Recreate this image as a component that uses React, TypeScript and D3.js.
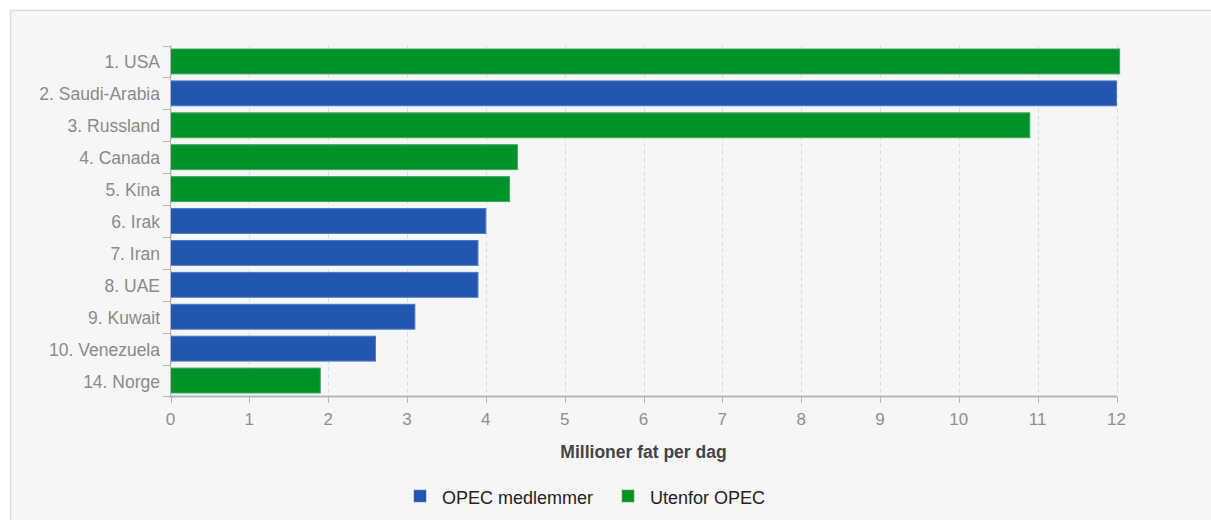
import React from "react";
import * as d3 from "d3";

const countries = ["1. USA", "2. Saudi-Arabia", "3. Russland", "4. Canada", "5. Kina", "6. Irak", "7. Iran", "8. UAE", "9. Kuwait", "10. Venezuela", "14. Norge"];
const production = [12.04, 12.0, 10.9, 4.4, 4.3, 4.0, 3.9, 3.9, 3.1, 2.6, 1.9];
const groups = ["non", "opec", "non", "non", "non", "opec", "opec", "opec", "opec", "opec", "non"];
const xTicks = [0, 1, 2, 3, 4, 5, 6, 7, 8, 9, 10, 11, 12];
const legendKeys = ["opec", "non"];
const legendLabels = ["OPEC medlemmer", "Utenfor OPEC"];
const axisTitle = "Millioner fat per dag";

const fills: Record<string, string> = { opec: "#2356b0", non: "#00922a" };
const strokes: Record<string, string> = { opec: "#4f79c6", non: "#3aa85a" };

const W = 1211;
const H = 520;
const FONT = "'Liberation Sans', Arial, Helvetica, sans-serif";

export default function App() {
  const x = d3.scaleLinear().domain([0, 12]).range([170.5, 1116.5]);
  const y = d3.scaleBand<string>().domain(countries).range([45.5, 396.5]).paddingInner(0.22).paddingOuter(0.11);
  const step = y.step();
  const top = 45.5;
  const bottom = 396.5;

  return (
    <svg width={W} height={H} style={{ position: "absolute", left: 0, top: 0, display: "block" }}>
      <rect x={0} y={0} width={W} height={H} fill="#ffffff" />
      <rect x={10.5} y={10.5} width={W + 10} height={H + 10} fill="#f6f6f6" stroke="#dcdcdc" strokeWidth={1.5} />
      {xTicks.map((t) => (
        <line key={"g" + t} x1={Math.round(x(t)) + 0.5} x2={Math.round(x(t)) + 0.5} y1={top} y2={bottom} stroke="#dadada" strokeWidth={1} strokeDasharray="4,3" />
      ))}
      {countries.map((c, i) => (
        <rect
          key={c}
          x={x(0)}
          y={y(c)!}
          width={x(production[i]) - x(0)}
          height={y.bandwidth()}
          fill={fills[groups[i]]}
          stroke={strokes[groups[i]]}
          strokeWidth={1}
        />
      ))}
      {/* left axis */}
      <line x1={170.5} x2={170.5} y1={top} y2={bottom} stroke="#b5b5b5" strokeWidth={1} />
      {countries.map((c, i) => (
        <line key={"yt" + i} x1={163} x2={170.5} y1={Math.round(top + i * step) + 0.5} y2={Math.round(top + i * step) + 0.5} stroke="#b5b5b5" strokeWidth={1} />
      ))}
      <line x1={163} x2={170.5} y1={bottom} y2={bottom} stroke="#b5b5b5" strokeWidth={1} />
      {countries.map((c) => (
        <text key={"yl" + c} x={160} y={y(c)! + y.bandwidth() / 2} dy={7} textAnchor="end" fontFamily={FONT} fontSize={17.5} fill="#8a8a8a">
          {c}
        </text>
      ))}
      {/* bottom axis */}
      <line x1={170} x2={1117} y1={bottom} y2={bottom} stroke="#b5b5b5" strokeWidth={2} />
      {xTicks.map((t) => (
        <line key={"xt" + t} x1={Math.round(x(t)) + 0.5} x2={Math.round(x(t)) + 0.5} y1={bottom} y2={403} stroke="#b5b5b5" strokeWidth={1} />
      ))}
      {xTicks.map((t) => (
        <text key={"xl" + t} x={x(t)} y={425} textAnchor="middle" fontFamily={FONT} fontSize={17} fill="#8f8f8f">
          {t}
        </text>
      ))}
      <text x={(x(0) + x(12)) / 2} y={458} textAnchor="middle" fontFamily={FONT} fontSize={17.5} fontWeight="bold" fill="#444444">
        {axisTitle}
      </text>
      {legendKeys.map((k, i) => {
        const lx = i === 0 ? 414 : 622;
        return (
          <g key={k}>
            <rect x={lx} y={490} width={12} height={12} fill={fills[k]} stroke={strokes[k]} strokeWidth={0.5} />
            <text x={lx + 28} y={504} fontFamily={FONT} fontSize={18} fill="#222222">
              {legendLabels[i]}
            </text>
          </g>
        );
      })}
    </svg>
  );
}
